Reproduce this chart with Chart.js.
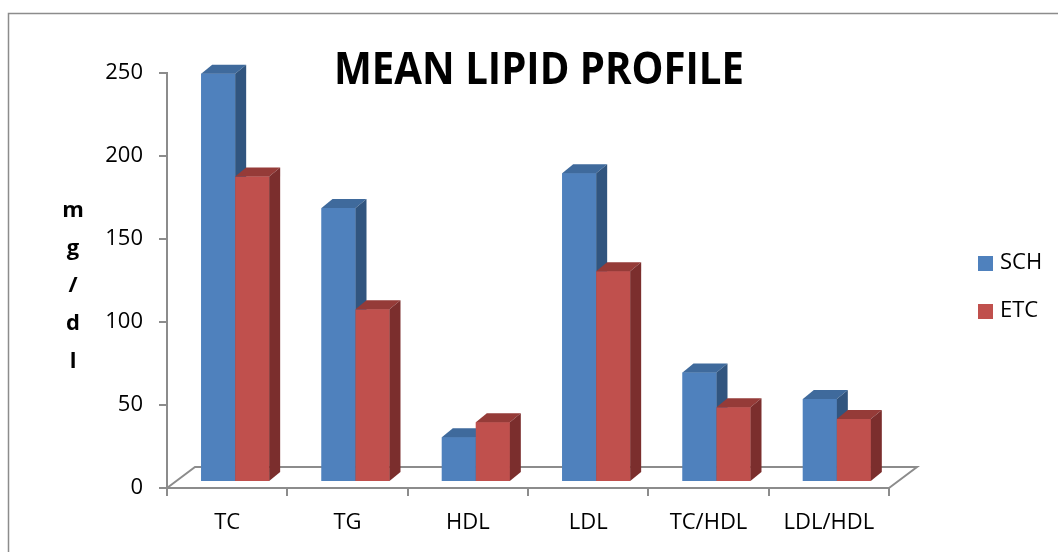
<!doctype html>
<html>

<head>
  <title>Mean Lipid Profile</title>
  <script src="https://cdn.jsdelivr.net/npm/chart.js"></script>
</head>
<style>
  body {
    margin: 0;
    background: #ffffff;
    font-family: "Open Sans", sans-serif;
  }

  .chartContainer {
    width: 1058px;
    height: 552px;
  }
</style>

<body>
  <div class="chartContainer">
    <canvas id="lipidChartId"></canvas>
  </div>
  <script>
    var categories = ["TC", "TG", "HDL", "LDL", "TC/HDL", "LDL/HDL"];
    var schValues = [246, 165, 27, 186, 66, 50];
    var etcValues = [184, 104, 36, 127, 45, 38];
    var yTicks = [0, 50, 100, 150, 200, 250];
    var unitLetters = ["m", "g", "/", "d", "l"];

    var axisGray = "#8c8c8c";
    var faceColors = [
      { front: "#4f81bd", top: "#3f6a9c", side: "#31557f" },
      { front: "#c0504d", top: "#953b38", side: "#7b2e2d" }
    ];
    // how far the bars sit back on the floor, and how deep they are
    var shift = { dx: 8, dy: -6 };
    var depth = { dx: 11, dy: -9 };
    var floorDepth = { dx: 28, dy: -21 };

    var frameAndFloor = {
      id: "frameAndFloor",
      beforeDraw: function (chart) {
        var ctx = chart.ctx;
        ctx.save();
        ctx.strokeStyle = axisGray;
        ctx.lineWidth = 1.5;
        ctx.strokeRect(8.5, 13.5, 1200, 700);
        ctx.restore();
      },
      beforeDatasetsDraw: function (chart) {
        var ctx = chart.ctx, a = chart.chartArea;
        ctx.save();
        ctx.strokeStyle = axisGray;
        ctx.lineWidth = 2;
        ctx.beginPath();
        ctx.moveTo(a.left, a.bottom);
        ctx.lineTo(a.left + floorDepth.dx, a.bottom + floorDepth.dy);
        ctx.lineTo(a.right + floorDepth.dx, a.bottom + floorDepth.dy);
        ctx.lineTo(a.right, a.bottom);
        ctx.stroke();
        ctx.restore();
        ctx.save();
        ctx.translate(shift.dx, shift.dy);
      },
      afterDatasetsDraw: function (chart) {
        var ctx = chart.ctx;
        // repaint each bar as a box, left to right, so the faces overlap right
        for (var i = 0; i < categories.length; i++) {
          for (var d = 0; d < chart.data.datasets.length; d++) {
            var bar = chart.getDatasetMeta(d).data[i];
            var p = bar.getProps(["x", "y", "base", "width"], true);
            var x0 = p.x - p.width / 2, x1 = p.x + p.width / 2;
            var yt = p.y, yb = p.base;
            var c = faceColors[d];
            ctx.fillStyle = c.front;
            ctx.fillRect(x0, yt, x1 - x0, yb - yt);
            ctx.fillStyle = c.top;
            ctx.beginPath();
            ctx.moveTo(x0, yt);
            ctx.lineTo(x0 + depth.dx, yt + depth.dy);
            ctx.lineTo(x1 + depth.dx, yt + depth.dy);
            ctx.lineTo(x1, yt);
            ctx.closePath();
            ctx.fill();
            ctx.fillStyle = c.side;
            ctx.beginPath();
            ctx.moveTo(x1, yt);
            ctx.lineTo(x1 + depth.dx, yt + depth.dy);
            ctx.lineTo(x1 + depth.dx, yb + depth.dy);
            ctx.lineTo(x1, yb);
            ctx.closePath();
            ctx.fill();
          }
        }
        ctx.restore();
      },
      afterDraw: function (chart) {
        var ctx = chart.ctx;
        // title, squeezed a little to the narrow face of the original
        ctx.save();
        ctx.fillStyle = "#000000";
        ctx.font = 'bold 45px "Open Sans"';
        ctx.textAlign = "center";
        ctx.textBaseline = "alphabetic";
        var title = "MEAN LIPID PROFILE";
        var w = ctx.measureText(title).width;
        ctx.translate(539, 84);
        ctx.scale(410 / w, 1);
        ctx.fillText(title, 0, 0);
        ctx.restore();

        // stacked unit label
        ctx.save();
        ctx.fillStyle = "#000000";
        ctx.font = 'bold 22px "Open Sans"';
        ctx.textAlign = "center";
        ctx.textBaseline = "alphabetic";
        for (var k = 0; k < unitLetters.length; k++) {
          ctx.fillText(unitLetters[k], 73, 217 + k * 37.7);
        }
        ctx.restore();

        // legend
        ctx.save();
        ctx.font = '22px "Open Sans"';
        ctx.textBaseline = "middle";
        chart.data.datasets.forEach(function (ds, n) {
          var cy = 263 + n * 48;
          ctx.fillStyle = ds.backgroundColor;
          ctx.fillRect(978, cy - 7, 15, 15);
          ctx.fillStyle = "#000000";
          ctx.fillText(ds.label, 1000, cy);
        });
        ctx.restore();
      }
    };

    var ctx = document.getElementById("lipidChartId").getContext("2d");
    var lipidChart = new Chart(ctx, {
      type: "bar",
      data: {
        labels: categories,
        datasets: [{
          label: "SCH",
          backgroundColor: faceColors[0].front,
          data: schValues
        }, {
          label: "ETC",
          backgroundColor: faceColors[1].front,
          data: etcValues
        }]
      },
      options: {
        responsive: true,
        maintainAspectRatio: false,
        animation: false,
        layout: {
          padding: { left: 0, top: 73, right: 169, bottom: 0 }
        },
        categoryPercentage: 0.565,
        barPercentage: 1.0,
        plugins: {
          legend: { display: false },
          title: { display: false },
          tooltip: { enabled: false }
        },
        scales: {
          x: {
            afterFit: function (scale) { scale.height = 64; },
            grid: {
              drawOnChartArea: false,
              color: axisGray,
              lineWidth: 2,
              tickLength: 8
            },
            border: { color: axisGray, width: 2 },
            ticks: {
              color: "#000000",
              padding: 14,
              font: { family: "Open Sans", size: 22 }
            }
          },
          y: {
            min: 0,
            max: 250,
            afterFit: function (scale) { scale.width = 167; },
            afterBuildTicks: function (scale) {
              scale.ticks = yTicks.map(function (v) { return { value: v }; });
            },
            grid: {
              drawOnChartArea: false,
              color: axisGray,
              lineWidth: 2,
              tickLength: 8
            },
            border: { color: axisGray, width: 2 },
            ticks: {
              color: "#000000",
              padding: 16,
              font: { family: "Open Sans", size: 22 }
            }
          }
        }
      },
      plugins: [frameAndFloor]
    });
  </script>
</body>

</html>
